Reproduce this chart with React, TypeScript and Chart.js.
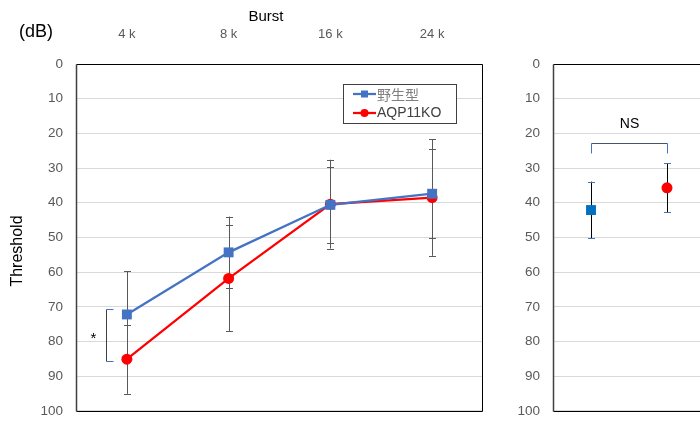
import React, { useEffect, useRef } from "react";
import { Chart, registerables } from "chart.js";
Chart.register(...registerables);

// ---- data ----
const seriesNames = ["野生型", "AQP11KO"];
const burstCategories = ["4 k", "8 k", "16 k", "24 k"];
const wtBurst = [72.2, 54.3, 40.6, 37.4];
const koBurst = [85.1, 61.8, 40.4, 38.5];
const wtBurstErr = [12.4, 10.3, 11.0, 12.8];
const koBurstErr = [10.0, 15.3, 12.8, 16.8];
const clickCategories = ["野生型", "AQP11KO"];
const wtClick = [42.1, null];
const koClick = [null, 35.7];
const wtClickErr = [8.2, 0];
const koClickErr = [0, 7.1];
const burstSigRange = [70.7, 85.7];
const clickNsLevel = [22.9, 25.6];
const yMin = 0;
const yMax = 100;
const yStep = 10;

const BLUE = "#4472C4";
const BLUE2 = "#0070C0";
const RED = "#FF0000";
const GRID = "#D9D9D9";
const TICK = "#595959";
const SANS = "'Liberation Sans', Arial, sans-serif";
const CJK = "'Noto Sans CJK JP', 'Liberation Sans', sans-serif";

function drawBox(ctx: CanvasRenderingContext2D, a: any, noRight = false) {
  ctx.save();
  ctx.strokeStyle = "#000000";
  ctx.lineWidth = 1;
  ctx.beginPath();
  const l = Math.round(a.left) + 0.5;
  const t = Math.round(a.top) + 0.5;
  const r = Math.round(a.right) - 0.5;
  const b = Math.round(a.bottom) + 0.5;
  ctx.moveTo(l, t);
  ctx.lineTo(r, t);
  if (!noRight) ctx.lineTo(r, b);
  else ctx.moveTo(r, b);
  ctx.lineTo(l, b);
  ctx.stroke();
  ctx.strokeStyle = "#404040";
  ctx.lineWidth = 1.5;
  ctx.beginPath();
  ctx.moveTo(l, t);
  ctx.lineTo(l, b);
  ctx.stroke();
  ctx.restore();
}

function drawErr(
  ctx: CanvasRenderingContext2D,
  x: any,
  y: any,
  vals: (number | null)[],
  errs: number[],
  stem: string,
  cap: string
) {
  vals.forEach((v, i) => {
    if (v === null || !errs[i]) return;
    const px = Math.round(x.getPixelForValue(i)) + 0.5;
    const top = y.getPixelForValue(v - errs[i]);
    const bot = y.getPixelForValue(v + errs[i]);
    ctx.save();
    ctx.lineWidth = 1;
    ctx.strokeStyle = stem;
    ctx.beginPath();
    ctx.moveTo(px, top);
    ctx.lineTo(px, bot);
    ctx.stroke();
    ctx.strokeStyle = cap;
    ctx.beginPath();
    ctx.moveTo(px - 3.5, Math.round(top) + 0.5);
    ctx.lineTo(px + 3.5, Math.round(top) + 0.5);
    ctx.moveTo(px - 3.5, Math.round(bot) + 0.5);
    ctx.lineTo(px + 3.5, Math.round(bot) + 0.5);
    ctx.stroke();
    ctx.restore();
  });
}

const burstPlugin = {
  id: "burstDeco",
  beforeDatasetsDraw(chart: any) {
    const { ctx } = chart;
    const x = chart.scales.x;
    const y = chart.scales.y;
    drawErr(ctx, x, y, wtBurst, wtBurstErr, "#595959", "#595959");
    drawErr(ctx, x, y, koBurst, koBurstErr, "#595959", "#595959");
  },
  afterDraw(chart: any) {
    const { ctx, chartArea } = chart;
    const x = chart.scales.x;
    const y = chart.scales.y;
    drawBox(ctx, chartArea);

    // titles
    ctx.save();
    ctx.fillStyle = "#000000";
    ctx.textAlign = "center";
    ctx.textBaseline = "middle";
    ctx.font = `15px ${SANS}`;
    ctx.fillText("Burst", 266, 17);
    ctx.font = `18px ${SANS}`;
    ctx.fillText("(dB)", 36, 32);
    ctx.translate(18, 251);
    ctx.rotate(-Math.PI / 2);
    ctx.font = `16px ${SANS}`;
    ctx.fillText("Threshold", 0, 0);
    ctx.restore();

    // significance bracket
    const bx = Math.round(x.getPixelForValue(0)) - 20.5;
    const bt = Math.round(y.getPixelForValue(burstSigRange[0])) + 0.5;
    const bb = Math.round(y.getPixelForValue(burstSigRange[1])) + 0.5;
    ctx.save();
    ctx.lineWidth = 1;
    ctx.strokeStyle = "#404040";
    ctx.beginPath();
    ctx.moveTo(bx, bt);
    ctx.lineTo(bx, bb);
    ctx.stroke();
    ctx.strokeStyle = BLUE;
    ctx.beginPath();
    ctx.moveTo(bx, bt);
    ctx.lineTo(bx + 7, bt);
    ctx.moveTo(bx, bb);
    ctx.lineTo(bx + 7, bb);
    ctx.stroke();
    ctx.fillStyle = "#000000";
    ctx.font = `15px ${SANS}`;
    ctx.textAlign = "center";
    ctx.textBaseline = "middle";
    ctx.fillText("*", bx - 13, (bt + bb) / 2 + 3);
    ctx.restore();

    // legend
    const ds = chart.data.datasets;
    const lx = 343.5, ly = 84.5, lw = 113, lh = 39;
    ctx.save();
    ctx.fillStyle = "#FFFFFF";
    ctx.fillRect(lx, ly, lw, lh);
    ctx.strokeStyle = "#404040";
    ctx.lineWidth = 1;
    ctx.strokeRect(lx, ly, lw, lh);
    const rows = [94, 113];
    ds.forEach((d: any, i: number) => {
      const ry = rows[i];
      ctx.strokeStyle = d.borderColor;
      ctx.lineWidth = 2.25;
      ctx.beginPath();
      ctx.moveTo(353, ry);
      ctx.lineTo(376, ry);
      ctx.stroke();
      ctx.fillStyle = d.backgroundColor;
      if (d.pointStyle === "rect") {
        ctx.fillRect(364.5 - 3.5, ry - 3.5, 7, 7);
      } else {
        ctx.beginPath();
        ctx.arc(364.5, ry, 4, 0, Math.PI * 2);
        ctx.fill();
      }
      ctx.fillStyle = i === 0 ? "#7F7F7F" : "#404040";
      ctx.font = i === 0 ? `14px ${CJK}` : `14px ${SANS}`;
      ctx.textAlign = "left";
      ctx.textBaseline = "middle";
      ctx.fillText(d.label, 377, ry + 0.5);
    });
    ctx.restore();
  },
};

const clickPlugin = {
  id: "clickDeco",
  beforeDatasetsDraw(chart: any) {
    const { ctx } = chart;
    const x = chart.scales.x;
    const y = chart.scales.y;
    drawErr(ctx, x, y, wtClick, wtClickErr, "#000000", BLUE);
    drawErr(ctx, x, y, koClick, koClickErr, "#000000", BLUE);
  },
  afterDraw(chart: any) {
    const { ctx, chartArea } = chart;
    const x = chart.scales.x;
    const y = chart.scales.y;
    drawBox(ctx, chartArea, true);
    ctx.save();
    ctx.fillStyle = "#000000";
    ctx.textAlign = "center";
    ctx.textBaseline = "middle";
    ctx.font = `15px ${SANS}`;
    ctx.fillText("Click", 635, 38);
    // NS bracket
    const x0 = Math.round(x.getPixelForValue(0)) + 0.5;
    const x1 = Math.round(x.getPixelForValue(1)) + 0.5;
    const yt = Math.round(y.getPixelForValue(clickNsLevel[0])) + 0.5;
    const yb = Math.round(y.getPixelForValue(clickNsLevel[1])) + 0.5;
    ctx.lineWidth = 1;
    ctx.strokeStyle = "#44546A";
    ctx.beginPath();
    ctx.moveTo(x0, yt);
    ctx.lineTo(x1, yt);
    ctx.stroke();
    ctx.strokeStyle = BLUE;
    ctx.beginPath();
    ctx.moveTo(x0, yt);
    ctx.lineTo(x0, yb);
    ctx.moveTo(x1, yt);
    ctx.lineTo(x1, yb);
    ctx.stroke();
    ctx.font = `14px ${SANS}`;
    ctx.fillText("NS", (x0 + x1) / 2, yt - 19);
    ctx.restore();
  },
};

function yScale(width: number) {
  return {
    reverse: true,
    min: yMin,
    max: yMax,
    ticks: {
      stepSize: yStep,
      color: TICK,
      padding: 13,
      font: { family: SANS, size: 13.5 },
    },
    grid: { color: GRID, lineWidth: 1, drawTicks: false },
    border: { display: false },
    afterFit(scale: any) {
      scale.width = width;
    },
  };
}

export default function App() {
  const ref1 = useRef<HTMLCanvasElement>(null);
  const ref2 = useRef<HTMLCanvasElement>(null);

  useEffect(() => {
    const c1 = new Chart(ref1.current as HTMLCanvasElement, {
      type: "line",
      data: {
        labels: burstCategories,
        datasets: [
          {
            label: seriesNames[0],
            data: wtBurst,
            borderColor: BLUE,
            backgroundColor: BLUE,
            borderWidth: 2.25,
            pointStyle: "rect",
            pointRadius: 7,
            pointBorderWidth: 0,
          },
          {
            label: seriesNames[1],
            data: koBurst,
            borderColor: RED,
            backgroundColor: RED,
            borderWidth: 2.25,
            pointStyle: "circle",
            pointRadius: 5.5,
            pointBorderWidth: 0,
          },
        ],
      },
      options: {
        responsive: false,
        animation: false,
        layout: { padding: { left: 0, top: 0, right: 37, bottom: 15 } },
        plugins: { legend: { display: false }, tooltip: { enabled: false }, title: { display: false } },
        scales: {
          x: {
            position: "top",
            offset: true,
            grid: { display: false },
            border: { display: false },
            ticks: { color: TICK, padding: 14, font: { family: SANS, size: 13 } },
            afterFit(scale: any) {
              scale.height = 64;
            },
          },
          y: yScale(76) as any,
        },
      },
      plugins: [burstPlugin],
    });

    const c2 = new Chart(ref2.current as HTMLCanvasElement, {
      type: "line",
      data: {
        labels: clickCategories,
        datasets: [
          {
            label: seriesNames[0],
            data: wtClick,
            borderColor: BLUE2,
            backgroundColor: BLUE2,
            showLine: false,
            pointStyle: "rect",
            pointRadius: 7,
            pointBorderWidth: 0,
          },
          {
            label: seriesNames[1],
            data: koClick,
            borderColor: RED,
            backgroundColor: RED,
            showLine: false,
            pointStyle: "circle",
            pointRadius: 5.5,
            pointBorderWidth: 0,
          },
        ],
      },
      options: {
        responsive: false,
        animation: false,
        layout: { padding: { left: 0, top: 64, right: 35, bottom: 15 } },
        plugins: { legend: { display: false }, tooltip: { enabled: false }, title: { display: false } },
        scales: {
          x: { display: false, offset: true },
          y: yScale(73) as any,
        },
      },
      plugins: [clickPlugin],
    });

    return () => {
      c1.destroy();
      c2.destroy();
    };
  }, []);

  return (
    <div
      style={{
        position: "fixed",
        left: 0,
        top: 0,
        width: 700,
        height: 432,
        overflow: "hidden",
        background: "#ffffff",
      }}
    >
      <canvas ref={ref1} width={520} height={432} style={{ position: "absolute", left: 0, top: 0 }} />
      <canvas ref={ref2} width={260} height={432} style={{ position: "absolute", left: 480, top: 0 }} />
    </div>
  );
}
